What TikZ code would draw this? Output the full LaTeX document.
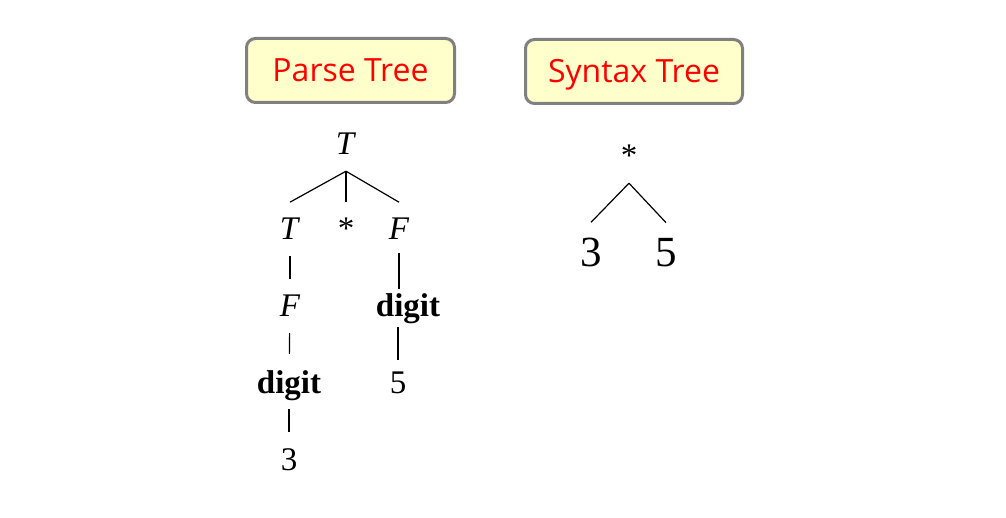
\documentclass[tikz,border=0pt]{standalone}
\usepackage{fontspec}
\setmainfont{Liberation Serif}
\newfontfamily\hdrfont{Open Sans}
\definecolor{hdrfill}{HTML}{FFFFCC}
\definecolor{hdrline}{HTML}{808080}

\begin{document}
\begin{tikzpicture}[x=1pt, y=-1pt,
    sym/.style={anchor=base, inner xsep=2pt, inner ysep=16pt, text depth=0pt, font=\fontsize{33}{40}\selectfont},
    big/.style={sym, font=\fontsize{43}{50}\selectfont},
    hdr/.style={draw=hdrline, line width=3pt, rounded corners=9pt, fill=hdrfill, text=red,
        minimum height=64pt, text height=28pt, text depth=5pt, font=\hdrfont\fontsize{32}{36}\selectfont},
    edge/.style={line width=1.2pt}]
        \useasboundingbox (0,0) rectangle (1006,518);
        % headings
        \node[hdr, minimum width=208pt] (parsehd) at (350.5,70.5) {Parse Tree};
        \node[hdr, minimum width=217pt] (synhd)   at (634,71.5)   {Syntax Tree};
        % parse tree
        \node[sym] (root)  at (346,155) {\textit{T}};
        \node[sym] (tl)    at (290,240) {\textit{T}};
        \node[sym] (star)  at (346,240) {*};
        \node[sym] (fr)    at (399,240) {\textit{F}};
        \node[sym] (fl)    at (290,317) {\textit{F}};
        \node[sym] (digr)  at (408,317) {\textbf{digit}};
        \node[sym] (digl)  at (289,393) {\textbf{digit}};
        \node[sym] (five)  at (398,393) {5};
        \node[sym] (three) at (289,470) {3};
        \draw[edge] (root.south) -- (tl.north);
        \draw[edge] (root.south) -- (star.north);
        \draw[edge] (root.south) -- (fr.north);
        \draw[edge] (tl) -- (fl);
        \draw[edge, shorten <=-3pt, shorten >=-11pt] (fr.south) -- (fr.south |- digr.north);
        \draw[edge] (fl) -- (digl);
        \draw[edge, shorten <=-6pt, shorten >=-5pt] (five.north |- digr.south) -- (five.north);
        \draw[edge] (digl) -- (three);
        % syntax tree
        \node[sym] (op)  at (629,167) {*};
        \node[big] (lhs) at (591,267) {3};
        \node[big] (rhs) at (666,267) {5};
        \draw[edge] (op.south) -- (lhs.north);
        \draw[edge] (op.south) -- (rhs.north);
\end{tikzpicture}
\end{document}
